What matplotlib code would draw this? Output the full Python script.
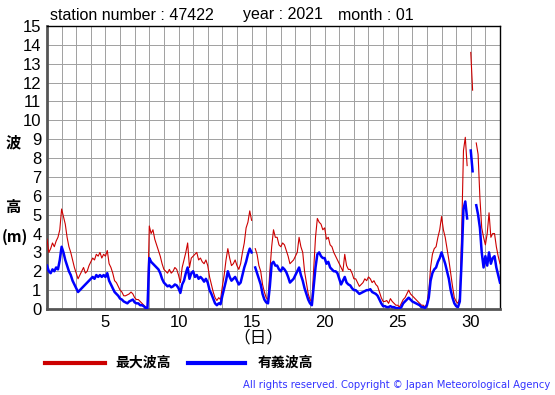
import numpy as np
import matplotlib
matplotlib.use("Agg")
import matplotlib.pyplot as plt
from matplotlib.lines import Line2D

nan = np.nan

# 3-hourly samples, day 1 00h .. day 32 00h
hmax = [
    3.7, 3.0, 3.2, 3.5, 3.3, 3.6, 3.8, 4.2,      # 1
    5.3, 4.9, 4.5, 3.8, 3.3, 3.0, 2.6, 2.2,      # 2
    1.9, 1.6, 1.8, 2.0, 2.2, 1.9, 2.0, 2.3,      # 3
    2.5, 2.7, 2.6, 2.9, 2.8, 3.0, 2.7, 2.9,      # 4
    2.8, 3.1, 2.4, 2.2, 1.9, 1.5, 1.4, 1.2,      # 5
    1.0, 0.9, 0.7, 0.7, 0.75, 0.8, 0.9, 0.8,     # 6
    0.6, 0.5, 0.5, 0.4, 0.3, 0.2, 0.1, 0.1,      # 7
    4.4, 4.0, 4.2, 3.7, 3.4, 3.1, 2.8, 2.4,      # 8
    2.1, 2.0, 1.9, 2.1, 1.9, 2.0, 2.2, 2.1,      # 9
    1.8, 1.4, 2.2, 2.6, 3.0, 3.5, 2.2, 2.7,      # 10
    2.8, 2.9, 3.0, 2.6, 2.7, 2.5, 2.4, 2.6,      # 11
    2.3, 1.7, 1.3, 0.9, 0.6, 0.45, 0.6, 0.5,     # 12
    1.2, 1.8, 2.6, 3.2, 2.7, 2.3, 2.4, 2.6,      # 13
    2.3, 2.1, 2.4, 3.0, 3.5, 4.3, 4.6, 5.2,      # 14
    4.7, nan, 3.2, 2.9, 2.3, 2.0, 1.3, 0.9,      # 15
    0.6, 0.5, 2.0, 3.3, 4.2, 3.8, 3.8, 3.4,      # 16
    3.3, 3.5, 3.4, 3.1, 2.8, 2.4, 2.5, 2.6,      # 17
    2.8, 3.0, 3.8, 3.3, 3.0, 2.0, 1.4, 0.8,      # 18
    0.5, 0.4, 2.1, 3.8, 4.8, 4.6, 4.5, 4.2,      # 19
    4.3, 3.7, 3.8, 3.4, 3.3, 3.0, 2.8, 2.6,      # 20
    2.4, 2.2, 2.0, 2.9, 2.3, 2.1, 2.1, 1.9,      # 21
    1.6, 1.6, 1.4, 1.2, 1.3, 1.4, 1.6, 1.5,      # 22
    1.7, 1.6, 1.4, 1.5, 1.3, 1.2, 0.9, 0.6,      # 23
    0.4, 0.4, 0.45, 0.3, 0.55, 0.4, 0.3, 0.2,    # 24
    0.2, 0.1, 0.3, 0.5, 0.6, 0.8, 1.0, 0.8,      # 25
    0.7, 0.6, 0.5, 0.4, 0.3, 0.2, 0.2, 0.1,      # 26
    0.3, 0.9, 2.2, 2.9, 3.2, 3.3, 3.8, 4.2,      # 27
    4.9, 4.2, 3.8, 3.2, 2.6, 1.9, 1.2, 0.6,      # 28
    0.4, 0.3, 0.6, 4.0, 8.4, 9.1, 7.6, nan,      # 29
    13.6, 11.6, nan, 8.8, 8.2, 5.9, 4.3, 3.8,    # 30
    3.4, 4.0, 5.1, 3.8, 4.0, 4.0, 3.3, 2.8,      # 31
    2.4,
]

hsig = [
    2.3, 2.0, 1.9, 2.1, 2.0, 2.2, 2.1, 2.6,      # 1
    3.3, 3.0, 2.6, 2.3, 2.0, 1.8, 1.5, 1.3,      # 2
    1.1, 0.9, 1.0, 1.1, 1.2, 1.3, 1.4, 1.5,      # 3
    1.6, 1.7, 1.6, 1.8, 1.7, 1.8, 1.7, 1.8,      # 4
    1.7, 1.9, 1.5, 1.3, 1.1, 0.9, 0.8, 0.7,      # 5
    0.55, 0.5, 0.4, 0.35, 0.3, 0.4, 0.45, 0.5,   # 6
    0.35, 0.3, 0.3, 0.2, 0.2, 0.15, 0.05, 0.05,  # 7
    2.7, 2.5, 2.4, 2.3, 2.2, 2.1, 1.9, 1.6,      # 8
    1.4, 1.3, 1.2, 1.25, 1.15, 1.2, 1.3, 1.25,   # 9
    1.1, 0.85, 1.3, 1.5, 1.9, 2.2, 1.6, 1.9,     # 10
    2.0, 1.7, 1.8, 1.6, 1.7, 1.6, 1.45, 1.6,     # 11
    1.4, 1.0, 0.8, 0.55, 0.3, 0.2, 0.3, 0.25,    # 12
    0.7, 1.1, 1.5, 2.0, 1.7, 1.5, 1.6, 1.7,      # 13
    1.5, 1.3, 1.4, 1.8, 2.2, 2.5, 2.9, 3.2,      # 14
    3.0, nan, 2.2, 1.9, 1.6, 1.3, 0.8, 0.5,      # 15
    0.35, 0.3, 1.2, 2.4, 2.5, 2.3, 2.3, 2.1,     # 16
    2.0, 2.2, 2.1, 1.95, 1.7, 1.4, 1.5, 1.6,     # 17
    1.8, 2.0, 2.2, 1.8, 1.5, 1.1, 0.8, 0.5,      # 18
    0.3, 0.2, 1.2, 2.2, 2.9, 3.0, 2.8, 2.7,      # 19
    2.7, 2.4, 2.5, 2.2, 2.1, 2.0, 2.0, 1.9,      # 20
    1.6, 1.3, 1.5, 1.7, 1.4, 1.3, 1.25, 1.1,     # 21
    1.0, 1.0, 0.9, 0.8, 0.85, 0.9, 0.95, 1.0,    # 22
    1.0, 1.05, 0.9, 0.85, 0.8, 0.7, 0.5, 0.3,    # 23
    0.15, 0.15, 0.1, 0.1, 0.15, 0.1, 0.1, 0.05,  # 24
    0.05, 0.02, 0.1, 0.3, 0.4, 0.5, 0.6, 0.5,    # 25
    0.4, 0.35, 0.3, 0.25, 0.2, 0.1, 0.1, 0.05,   # 26
    0.2, 0.6, 1.5, 1.9, 2.1, 2.2, 2.5, 2.7,      # 27
    3.0, 2.7, 2.4, 2.0, 1.6, 1.0, 0.6, 0.3,      # 28
    0.15, 0.1, 0.4, 2.6, 5.3, 5.7, 4.8, nan,     # 29
    8.4, 7.3, nan, 5.5, 5.0, 4.3, 3.0, 2.2,      # 30
    2.8, 2.3, 3.0, 2.4, 2.7, 2.8, 2.2, 1.8,      # 31
    1.4,
]

days = 1 + np.arange(len(hmax)) / 8.0
xtick_labels = [5, 10, 15, 20, 25, 30]
yticks = list(range(0, 16))

RED = "#cc0000"
BLUE = "#0000ff"
CJK = ["Noto Sans CJK JP", "DejaVu Sans"]

fig = plt.figure(figsize=(5.55, 3.95), dpi=100)
ax = fig.add_axes([47 / 555, 1 - 309 / 395, 453 / 555, 283 / 395])

ax.plot(days, hmax, color=RED, lw=0.8, zorder=3)
ax.plot(days, hsig, color=BLUE, lw=1.8, zorder=4)

ax.set_xlim(1, 32)
ax.set_ylim(0, 15)
ax.set_xticks(range(1, 33))
ax.set_xticklabels([str(d) if d in xtick_labels else "" for d in range(1, 33)])
ax.set_yticks(yticks)
ax.set_yticklabels([str(v) for v in yticks])
ax.tick_params(length=0, labelsize=12, pad=4)
for lab in ax.get_xticklabels() + ax.get_yticklabels():
    lab.set_fontfamily("Liberation Sans")
ax.grid(True, color="#a0a0a0", lw=0.7)
ax.set_axisbelow(True)
for side in ["top", "right"]:
    ax.spines[side].set_color("black")
    ax.spines[side].set_linewidth(1.0)
for side in ["left", "bottom"]:
    ax.spines[side].set_color("#555555")
    ax.spines[side].set_linewidth(2.0)

# title line
fig.text(50 / 555, 1 - 15 / 395, "station number : 47422", fontsize=11.5,
         family="Liberation Sans", va="center")
fig.text(243 / 555, 1 - 15 / 395, "year : 2021", fontsize=11.5,
         family="Liberation Sans", va="center")
fig.text(338 / 555, 1 - 15 / 395, "month : 01", fontsize=11.5,
         family="Liberation Sans", va="center")

# y label
fig.text(13 / 555, 1 - 142 / 395, "波", fontsize=11, family=CJK, weight="bold",
         ha="center", va="center")
fig.text(13 / 555, 1 - 207 / 395, "高", fontsize=11, family=CJK, weight="bold",
         ha="center", va="center")
fig.text(2 / 555, 1 - 237 / 395, "(m)", fontsize=11, family=CJK, weight="bold",
         ha="left", va="center")
# x label
fig.text(258 / 555, 1 - 338 / 395, "（日）", fontsize=12, family=CJK,
         ha="center", va="center")

# legend
fig.add_artist(Line2D([45 / 555, 105 / 555], [1 - 363 / 395] * 2, color=RED, lw=3))
fig.text(115 / 555, 1 - 363 / 395, "最大波高", fontsize=10, family=CJK, weight="bold",
         va="center")
fig.add_artist(Line2D([188 / 555, 245 / 555], [1 - 363 / 395] * 2, color=BLUE, lw=3))
fig.text(258 / 555, 1 - 363 / 395, "有義波高", fontsize=10, family=CJK, weight="bold",
         va="center")

fig.text(550 / 555, 1 - 385 / 395,
         "All rights reserved. Copyright © Japan Meteorological Agency",
         fontsize=7.2, color="#3333ff", ha="right", va="center")

fig.savefig("out.png", dpi=100)
